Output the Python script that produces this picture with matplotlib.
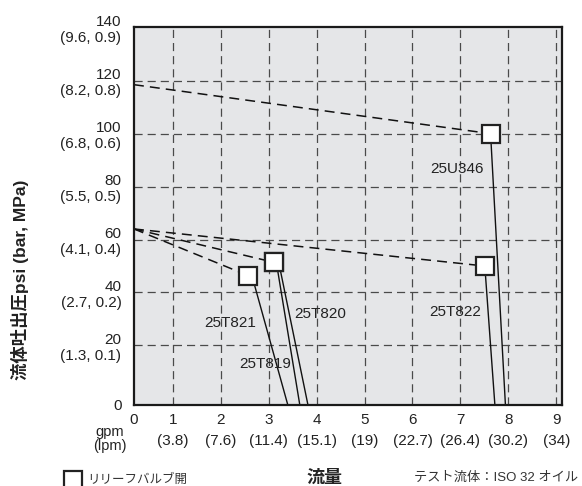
import matplotlib
matplotlib.use("Agg")
import matplotlib.pyplot as plt
from matplotlib.lines import Line2D

plt.rcParams['font.family'] = ['Liberation Sans', 'Noto Sans CJK JP', 'DejaVu Sans']

# --- data (gpm, psi) ---
x_ticks = [0.19, 1, 2, 3, 4, 5, 6, 7, 8, 9]
x_labels = ["0", "1\n(3.8)", "2\n(7.6)", "3\n(11.4)", "4\n(15.1)", "5\n(19)",
            "6\n(22.7)", "7\n(26.4)", "8\n(30.2)", "9\n(34)"]
y_ticks = [-2.5, 20, 40, 60, 80, 100, 120, 140]
y_labels = ["0", "20\n(1.3, 0.1)", "40\n(2.7, 0.2)", "60\n(4.1, 0.4)", "80\n(5.5, 0.5)",
            "100\n(6.8, 0.6)", "120\n(8.2, 0.8)", "140\n(9.6, 0.9)"]

models = ["25U346", "25T822", "25T820", "25T819", "25T821"]
# relief valve open points
relief_x = [7.63, 7.51, 3.11, 3.11, 2.57]
relief_y = [100, 50, 51.4, 51.4, 46.4]
# dashed pressure lines from the axis to the relief point
dash_start_x = [0.19, 0.19, 0.19, None, 0.19]
dash_start_y = [118.5, 64, 64, None, 64]
# solid lines from relief point down to the flow axis
solid_x0 = [7.63, 7.51, 3.21, 3.16, 2.65]
solid_y0 = [100, 50, 51.4, 51.4, 46.4]
solid_x1 = [7.94, 7.72, 3.82, 3.65, 3.40]
solid_y1 = [-2.5, -2.5, -2.5, -2.5, -2.5]
# label positions
label_x = [6.94, 6.90, 4.07, 2.92, 2.19]
label_y = [86.7, 32.6, 31.8, 13.1, 28.4]

fig = plt.figure(figsize=(5.82, 4.86), dpi=100)
ax = fig.add_axes([0.2302, 0.1667, 0.7354, 0.7778])
ax.set_facecolor('#e5e6e8')
ax.set_xlim(0.19, 9.12)
ax.set_ylim(-2.5, 140.3)

for s in ax.spines.values():
    s.set_linewidth(1.6)
    s.set_color('#1a1a1a')

# grid
for gx in range(1, 10):
    ax.axvline(gx, color='#4a4a4a', lw=0.9, dashes=(6.5, 4), zorder=1)
for gy in range(20, 140, 20):
    ax.axhline(gy, color='#4a4a4a', lw=0.9, dashes=(6.5, 4), zorder=1)

for i in range(len(models)):
    if dash_start_x[i] is not None:
        ax.plot([dash_start_x[i], relief_x[i]], [dash_start_y[i], relief_y[i]],
                color='#111111', lw=1.1, dashes=(6.5, 4), zorder=2)
    ax.plot([solid_x0[i], solid_x1[i]], [solid_y0[i], solid_y1[i]],
            color='#111111', lw=1.0, zorder=2, clip_on=False)
    ax.text(label_x[i], label_y[i], models[i], fontsize=11, color='#222222',
            ha='center', va='center', zorder=3)

ax.plot(relief_x, relief_y, linestyle='none', marker='s', markersize=13,
        markerfacecolor='white', markeredgecolor='#222222', markeredgewidth=1.6, zorder=4)

ax.set_xticks(x_ticks)
ax.set_xticklabels(x_labels, fontsize=11, color='#222222')
ax.set_yticks(y_ticks)
ax.set_yticklabels(y_labels, fontsize=11, color='#222222')
ax.tick_params(axis='both', length=0)
ax.tick_params(axis='x', pad=6)
ax.tick_params(axis='y', pad=9)
for t in ax.get_xticklabels():
    t.set_linespacing(1.6)
for t in ax.get_yticklabels():
    t.set_linespacing(1.15)

fig.text(0.189, 0.097, "gpm\n(lpm)", fontsize=10.5, color='#222222',
         ha='center', va='center', linespacing=0.95)
fig.text(0.035, 0.424, "流体吐出圧psi (bar, MPa)", fontsize=12.5, fontweight='bold',
         color='#222222', rotation=90, ha='center', va='center')
fig.text(0.557, 0.0165, "流量", fontsize=13, fontweight='bold', color='#222222',
         ha='center', va='center')
fig.text(0.9926, 0.0165, "テスト流体：ISO 32 オイル", fontsize=9.5, color='#333333',
         ha='right', va='center')

# legend
fig.add_artist(Line2D([0.1246], [0.0123], transform=fig.transFigure, linestyle='none',
                      marker='s', markersize=13, markerfacecolor='white',
                      markeredgecolor='#222222', markeredgewidth=1.6))
fig.text(0.1495, 0.013, "リリーフバルブ開", fontsize=9, color='#333333',
         ha='left', va='center')

fig.savefig("out.png", dpi=100)
